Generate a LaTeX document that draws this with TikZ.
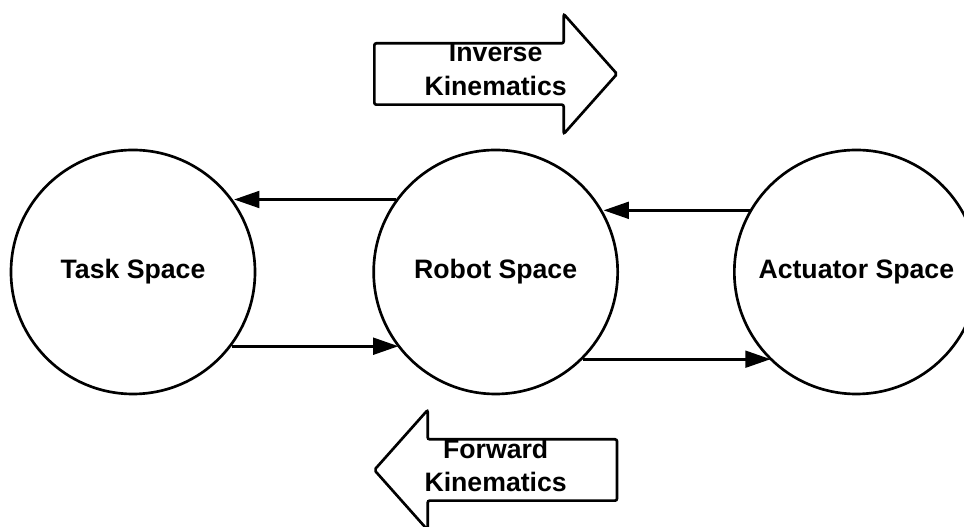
\documentclass[tikz,border=0pt]{standalone}
\usepackage{fontspec}
\setmainfont{Liberation Sans}
\usetikzlibrary{arrows.meta, positioning}

\begin{document}
\begin{tikzpicture}[
    x=1pt, y=1pt,
    space/.style={draw, circle, line width=2pt, minimum size=183pt, inner sep=0pt, font=\fontsize{20}{24}\selectfont\bfseries},
    arr/.style={-{Triangle[length=19pt, width=12.5pt]}, line width=2.2pt},
    bigarr/.style={draw, line width=2pt, rounded corners=1.5pt},
    bigtext/.style={align=center, yshift=3.5pt, font=\fontsize{20}{25}\selectfont\bfseries},
    node distance=87pt,
]
\useasboundingbox (0,0) rectangle (723,395.25);
\node[space] (task) at (99.75,191.25) {Task Space};
\node[space, right=of task] (robot) {Robot Space};
\node[space, right=85.5pt of robot] (actuator) {Actuator Space};

\draw[arr] (robot.144.7) -- (robot.144.7 -| task.35.3);
\draw[arr] (task.-37.6) -- (task.-37.6 -| robot.-142.4);
\draw[arr] (actuator.150.8) -- (actuator.150.8 -| robot.29.2);
\draw[arr] (robot.-45.7) -- (robot.-45.7 -| actuator.-134.3);

% block arrows above and below the robot space
\coordinate[above=148.5pt of robot.center] (ik);
\coordinate[below=148.5pt of robot.center] (fk);
\draw[bigarr, shift={(ik)}] (-91,23) -- (51,23) -- (51,45) -- (91,0) -- (51,-45) -- (51,-23) -- (-91,-23) -- cycle;
\draw[bigarr, shift={(fk)}] (91,23) -- (-51,23) -- (-51,45) -- (-91,0) -- (-51,-45) -- (-51,-23) -- (91,-23) -- cycle;
\node[bigtext] (iktext) at (ik) {Inverse\\Kinematics};
\node[bigtext] (fktext) at (fk) {Forward\\Kinematics};
\end{tikzpicture}
\end{document}
